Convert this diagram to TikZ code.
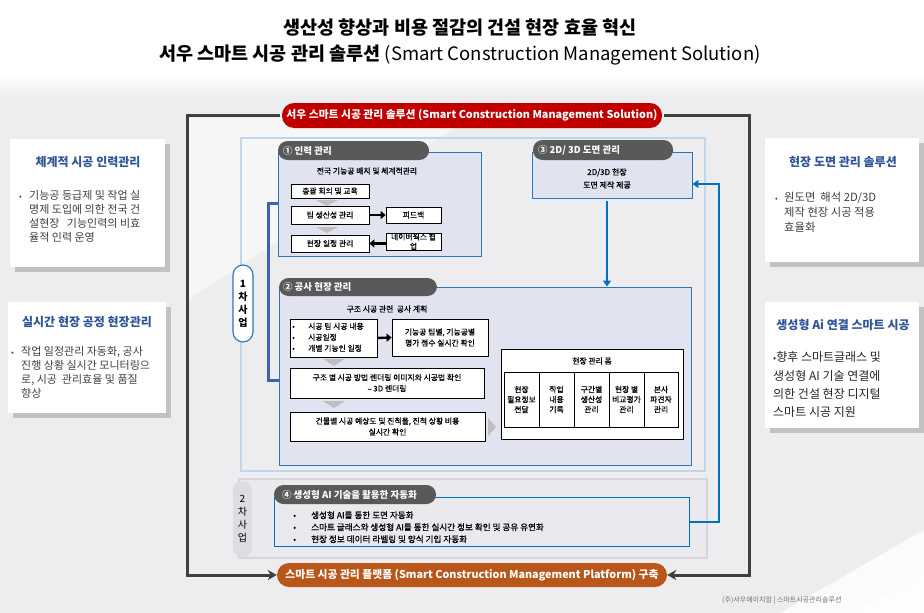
\documentclass[tikz,border=0pt]{standalone}
\usepackage{fontspec}
\setmainfont{Noto Sans CJK KR}
\newfontfamily\medfont{Noto Sans CJK KR}[FakeBold=0.6]
\usetikzlibrary{arrows.meta,shadows}
\definecolor{bggray}{HTML}{EDEDEF}
\definecolor{lblue}{HTML}{BDD7EE}
\definecolor{secblue}{HTML}{2E75B6}
\definecolor{secfill}{HTML}{E1E3F0}
\definecolor{hdrgray}{HTML}{595959}
\definecolor{banred}{HTML}{C00000}
\definecolor{banorange}{HTML}{B9561A}
\definecolor{framegray}{HTML}{404040}
\definecolor{arrowblue}{HTML}{0070C0}
\definecolor{brackblue}{HTML}{3F63AE}
\definecolor{titleblue}{HTML}{2F5597}
\definecolor{chevgray}{HTML}{BFBFBF}
\definecolor{ph2border}{HTML}{D6D4DD}
\definecolor{ph2fill}{HTML}{E9E9EE}
\definecolor{ph2pill}{HTML}{DCDCE1}
\definecolor{bodygray}{HTML}{404040}
\definecolor{shadowgray}{HTML}{C2C2C2}
\newcommand\fsz[2]{\fontsize{#1}{#2}\selectfont}
\newcommand\rbox[7]{\node[#1, inner sep=0pt, minimum width={(#5-#3)*1pt}, minimum height={(#6-#4)*1pt}] (#2) at ({(#3+#5)/2},{(#4+#6)/2}) {#7};}
\newcommand\mybul{{\fsz{8}{8}•}}
\begin{document}
\begin{tikzpicture}[x=1pt,y=-1pt,
  whitebox/.style={draw=black, line width=0.8pt, fill=white, align=center, font=\medfont\fsz{7.8}{10.5}},
  secbox/.style={draw=secblue, line width=0.9pt, fill=secfill},
  hdr/.style={fill=hdrgray, rounded corners=9.5pt},
  hdrtxt/.style={anchor=west, text=white, font=\bfseries\fsz{9.5}{11}, inner sep=0pt},
  sidebox/.style={fill=white, drop shadow={shadow xshift=5pt, shadow yshift=-5pt, fill=shadowgray, opacity=1}},
  sidetitle/.style={text=titleblue, font=\bfseries\fsz{12}{13}, inner sep=0pt},
  sidebody/.style={anchor=west, inner sep=0pt, text=bodygray, font=\fsz{11}{14}},
  banner/.style={rounded corners=12pt, text=white, font=\bfseries\fsz{10.8}{12}},
  frameline/.style={draw=framegray, line width=3pt, -{Stealth[length=9pt,width=10pt]}},
  bluearrow/.style={draw=arrowblue, line width=2.6pt, -{Triangle[length=6pt,width=8pt]}},
  blkarrow/.style={draw=black, line width=2.4pt, -{Triangle[length=5pt,width=8pt]}},
  chev/.style={fill=chevgray},
  plain/.style={inner sep=0pt, font=\medfont\fsz{7.8}{10.5}},
]
\useasboundingbox (0,0) rectangle (924,613);
% background
\fill[bggray] (0,0) rectangle (924,613);
\fill[white] (0,0) rectangle (924,76);
\shade[top color=white, bottom color=bggray] (0,76) rectangle (924,96);
\fill[white, opacity=0.5] (187,118) -- (470,118) -- (187,300) -- cycle;
\fill[white, opacity=0.8] (780,613) -- (924,530) -- (924,613) -- cycle;

% title
\node[font=\bfseries\fsz{18.5}{22}, inner sep=0pt] (t1) at (460,28) {생산성 향상과 비용 절감의 건설 현장 효율 혁신};
\node[font=\bfseries\fsz{18.5}{22}, inner sep=0pt] (t2) at (460,55) {서우 스마트 시공 관리 솔루션 {\mdseries (Smart Construction Management Solution)}};

% side boxes
\rbox{sidebox}{L1}{10}{139}{165}{267}{}
\node[sidetitle] (L1t) at (88,162) {체계적 시공 인력관리};
\node[sidebody] (L1b) at (19,218) {\begin{tabular}{@{}l@{}l@{}}\makebox[10pt][l]{\mybul}&기능공 등급제 및 작업 실\\&명제 도입에 의한 전국 건\\&설현장\ \ \ 기능인력의 비효\\&율적 인력 운영\end{tabular}};

\rbox{sidebox}{L2}{8}{302}{166}{413}{}
\node[sidetitle] (L2t) at (87,322) {실시간 현장 공정 현장관리};
\node[sidebody] (L2b) at (11,373.5) {\begin{tabular}{@{}l@{}l@{}}\makebox[10pt][l]{\mybul}&작업 일정관리 자동화, 공사\\&진행 상황 실시간 모니터링으\\&로, 시공\ \ 관리효율 및 품질\\&향상\end{tabular}};

\rbox{sidebox}{R1}{765}{138}{919}{262}{}
\node[sidetitle] (R1t) at (843,162) {현장 도면 관리 솔루션};
\node[sidebody, font=\fsz{11.3}{15}] (R1b) at (775,213) {\begin{tabular}{@{}l@{}l@{}}\makebox[9pt][l]{\mybul}&원도면\ \ 해석 2D/3D\\&제작 현장 시공 적용\\&효율화\end{tabular}};

\rbox{sidebox}{R2}{765}{302}{919}{428}{}
\node[sidetitle] (R2t) at (843,325) {생성형 Ai 연결 스마트 시공};
\node[sidebody, text=black!85, font=\fsz{12}{18.3}] (R2b) at (773,385.5) {\begin{tabular}{@{}l@{}}{\fsz{9}{9}•}향후 스마트글래스 및\\생성형 AI 기술 연결에\\의한 건설 현장 디지털\\스마트 시공 지원\end{tabular}};

% phase areas
\rbox{draw=lblue, line width=2.6pt}{ph1}{241}{138}{705}{471}{}
\rbox{draw=ph2border, line width=2.6pt, fill=ph2fill}{ph2}{239}{479}{707}{558}{}
\rbox{draw=secblue, line width=1.1pt, fill=white, rounded corners=10pt, align=center, font=\bfseries\fsz{10}{13}}{ph1pill}{233}{265}{253}{342}{1\\차\\사\\업}
\rbox{fill=ph2pill, rounded corners=9pt, align=center, font=\fsz{10}{13}}{ph2pill}{233}{481}{252}{557}{2\\차\\사\\업}

% frame and banners
\coordinate (fl) at (187,575);
\coordinate (fr) at (749,575);
\rbox{banner, fill=banred}{topban}{282}{103}{662}{128}{서우 스마트 시공 관리 솔루션 (Smart Construction Management Solution)}
\rbox{banner, fill=banorange}{botban}{277}{563}{667}{587}{스마트 시공 관리 플랫폼 (Smart Construction Management Platform) 구축}
\draw[frameline] ([xshift=-2pt]topban.west) -| (fl) -- (botban.west);
\draw[frameline] ([xshift=2pt]topban.east) -| (fr) -- (botban.east);

% section 1
\rbox{secbox}{s1}{278}{152}{481}{256}{}
\rbox{hdr}{h1}{278}{141}{429}{160}{}
\node[hdrtxt] (h1t) at ([xshift=5pt]h1.west) {① 인력 관리};
\node[plain] (s1cap) at (367,171) {전국 기능공 배치 및 체계적관리};
\rbox{whitebox}{b11}{291}{184}{369}{198}{총괄 회의 및 교육}
\fill[chev] (316,200) -- (338,200) -- (327,206) -- cycle;
\rbox{whitebox}{b12}{291}{206}{369}{224}{팀 생산성 관리}
\rbox{whitebox}{b13}{386}{207}{441}{223}{피드백}
\fill[chev] (316,227) -- (338,227) -- (327,233) -- cycle;
\rbox{whitebox}{b14}{291}{235}{369}{252}{현장 일정 관리}
\rbox{whitebox, font=\medfont\fsz{7.8}{9.5}}{b15}{386}{233}{441}{250}{네이버웍스 협\\업}
\draw[blkarrow] ([xshift=1pt]b12.east) -- (b13.west);
\draw[blkarrow] (b15.west |- b14.east) -- (b14.east);

% section 3
\rbox{secbox}{s3}{532}{152}{692}{198}{}
\rbox{hdr}{h3}{533}{140}{673}{160}{}
\node[hdrtxt] (h3t) at ([xshift=5pt]h3.west) {③ 2D/ 3D 도면 관리};
\node[plain, align=center, font=\medfont\fsz{8}{13}] (s3t) at (607,178.5) {2D/3D 현장\\도면 제작 제공};

% section 2
\rbox{secbox}{s2}{279}{287}{691}{465}{}
\rbox{hdr}{h2}{279}{278}{437}{296}{}
\node[hdrtxt] (h2t) at ([xshift=4pt]h2.west) {② 공사 현장 관리};
\node[plain] (s2cap) at (387,309) {구조 시공 관련\ \ 공사 계획};
\rbox{whitebox}{b21}{290}{319}{377}{357}{}
\node[plain, anchor=west, font=\medfont\fsz{7.8}{11}] (b21t) at (292,338) {\begin{tabular}{@{}l@{}l@{}}\makebox[16pt][l]{•}&시공 팀 시공 내용\\\makebox[16pt][l]{•}&시공일정\\\makebox[16pt][l]{•}&개별 기능인 일정\end{tabular}};
\rbox{whitebox, font=\medfont\fsz{7.8}{11}}{b22}{392}{319}{488}{356}{기능공 팀별, 기능공별\\평가 점수 실시간 확인}
\draw[blkarrow] (b21.east) -- (b22.west);
\fill[chev] (323,359) -- (345,359) -- (334,366) -- cycle;
\rbox{whitebox, font=\medfont\fsz{7.8}{11}}{b23}{290}{368}{484}{398}{구조 별 시공 방법 렌더링 이미지와 시공법 확인\\– 3D 렌더링}
\fill[chev] (323,401) -- (345,401) -- (334,408) -- cycle;
\rbox{whitebox, font=\medfont\fsz{7.8}{11}}{b24}{290}{412}{485}{441}{건물별 시공 예상도 및 진척율, 진척 상황 비용\\실시간 확인}
\fill[chev] (488,418) -- (496,427) -- (488,436) -- cycle;
\rbox{draw=black, line width=0.9pt, fill=white}{form}{501}{349}{683}{439}{}
\node[plain] (formt) at (592,361) {현장 관리 폼};
\rbox{whitebox, font=\medfont\fsz{7.8}{10}}{f1}{504}{372}{539}{427}{현장\\필요정보\\전달}
\rbox{whitebox, font=\medfont\fsz{7.8}{10}}{f2}{539}{372}{574}{427}{작업\\내용\\기록}
\rbox{whitebox, font=\medfont\fsz{7.8}{10}}{f3}{574}{372}{609}{427}{구간별\\생산성\\관리}
\rbox{whitebox, font=\medfont\fsz{7.8}{10}}{f4}{609}{372}{644}{427}{현장 별\\비교평가\\관리}
\rbox{whitebox, font=\medfont\fsz{7.8}{10}}{f5}{644}{372}{678}{427}{본사\\파견자\\관리}

% bracket 1
\coordinate (c1) at (268,203);
\coordinate (c2) at (268,380);
\draw[draw=brackblue, line width=3pt] (s1.west |- c1) -- (c1) -- (c2) -- (s2.west |- c2);

% section 4
\rbox{draw=arrowblue, line width=0.9pt}{s4}{274}{497}{689}{546}{}
\rbox{hdr}{h4}{274}{485}{436}{504}{}
\node[hdrtxt] (h4t) at ([xshift=8pt]h4.west) {④ 생성형 AI 기술을 활용한 자동화};
\node[plain, anchor=west, font=\medfont\fsz{8.6}{12}] (s4t) at (293,528) {\begin{tabular}{@{}l@{}l@{}}\makebox[18pt][l]{•}&생성형 AI를 통한 도면 자동화\\\makebox[18pt][l]{•}&스마트 글래스와 생성형 AI를 통한 실시간 정보 확인 및 공유 유연화\\\makebox[18pt][l]{•}&현장 정보 데이터 라벨링 및 양식 기입 자동화\end{tabular}};

% blue arrows
\coordinate (a3) at (607,201);
\draw[bluearrow] (a3) -- (a3 |- s2.north);
\coordinate (lp) at (719,522);
\coordinate (s3in) at ([yshift=-9pt]s3.east);
\draw[bluearrow] (s4.east |- lp) -- (lp) |- (s3in);

% footer
\node[anchor=west, inner sep=0pt, text=black!55, font=\fsz{7}{8}] (foot) at (722,601) {(주)서우에이치알 | 스마트시공관리솔루션};
\fill[white, opacity=0.75] (850,613) -- (924,575) -- (924,613) -- cycle;
\end{tikzpicture}
\end{document}
